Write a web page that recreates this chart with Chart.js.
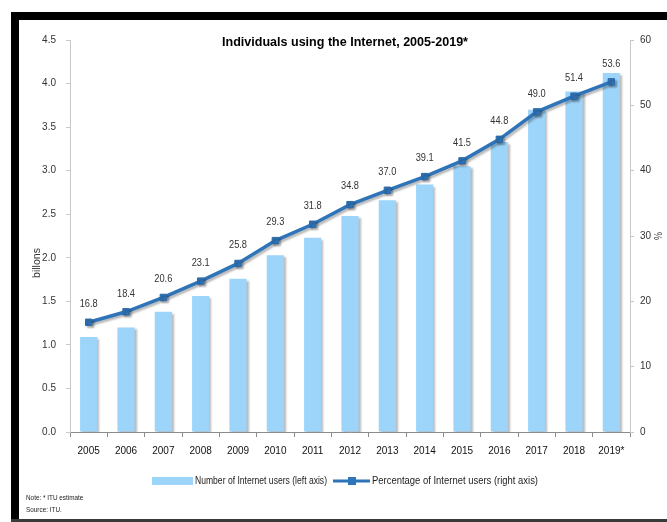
<!DOCTYPE html>
<html>
<head>
<meta charset="utf-8">
<script src="https://cdn.jsdelivr.net/npm/chart.js@4.4.1/dist/chart.umd.min.js"></script>
<style>
  html, body { margin: 0; padding: 0; background: #fff; }
  #wrap { position: relative; width: 667px; height: 522px; overflow: hidden; }
  #c { position: absolute; left: 0; top: 0; }
  .bar-top { position: absolute; left: 11px; top: 12px; width: 656px; height: 8px; background: #000; }
  .bar-left { position: absolute; left: 11px; top: 12px; width: 8px; height: 510px; background: #000; }
  .bar-bottom { position: absolute; left: 11px; top: 519px; width: 656px; height: 3px; background: #3a3a3a; }
  .note { position: absolute; left: 26px; font: 7.5px 'Liberation Sans', sans-serif; color: #222;
          transform: scaleX(0.85); transform-origin: left top; white-space: nowrap; }
</style>
</head>
<body>
<div id="wrap">
  <canvas id="c" width="667" height="522"></canvas>
  <div class="bar-top"></div>
  <div class="bar-left"></div>
  <div class="bar-bottom"></div>
  <div class="note" style="top:493px">Note: * ITU estimate</div>
  <div class="note" style="top:505px">Source: ITU.</div>
</div>
<script>
// data
var years = ['2005','2006','2007','2008','2009','2010','2011','2012','2013','2014','2015','2016','2017','2018','2019*'];
var usersBillions = [1.09, 1.20, 1.38, 1.56, 1.76, 2.03, 2.23, 2.48, 2.66, 2.84, 3.05, 3.33, 3.70, 3.91, 4.12];
var usersPercent = [16.8, 18.4, 20.6, 23.1, 25.8, 29.3, 31.8, 34.8, 37.0, 39.1, 41.5, 44.8, 49.0, 51.4, 53.6];
var leftTicks = [0, 0.5, 1, 1.5, 2, 2.5, 3, 3.5, 4, 4.5];
var rightTicks = [0, 10, 20, 30, 40, 50, 60];

var FONT = "'Liberation Sans', Arial, sans-serif";
var BAR = '#9dd4f9';
var LINE = '#2f74b8';

// title, axis titles, point labels and legend
var extras = {
  id: 'extras',
  beforeDatasetsDraw: function(chart) {
    var ctx = chart.ctx;
    ctx.save();
    ctx.shadowColor = 'rgba(0,0,0,0.28)';
    ctx.shadowOffsetX = 2;
    ctx.shadowOffsetY = 2;
    ctx.shadowBlur = 2;
  },
  afterDatasetsDraw: function(chart) {
    var ctx = chart.ctx;
    ctx.restore();
    var meta = chart.getDatasetMeta(1);
    ctx.save();
    ctx.font = '10px ' + FONT;
    ctx.fillStyle = '#333';
    ctx.textAlign = 'center';
    ctx.textBaseline = 'middle';
    meta.data.forEach(function(pt, i) {
      ctx.fillText(usersPercent[i].toFixed(1), pt.x, pt.y - 18, 18);
    });
    ctx.restore();
  },
  afterDraw: function(chart) {
    var ctx = chart.ctx;
    ctx.save();
    ctx.fillStyle = '#000';
    ctx.textBaseline = 'middle';
    ctx.textAlign = 'center';
    ctx.font = 'bold 13px ' + FONT;
    ctx.fillText('Individuals using the Internet, 2005-2019*', 345, 42, 246);

    ctx.font = '10.5px ' + FONT;
    ctx.fillStyle = '#333';
    ctx.save();
    ctx.translate(37, 263);
    ctx.rotate(-Math.PI / 2);
    ctx.fillText('billons', 0, 0, 30);
    ctx.restore();
    ctx.save();
    ctx.translate(657, 236);
    ctx.rotate(Math.PI / 2);
    ctx.fillText('%', 0, 0, 8);
    ctx.restore();

    // legend
    var ly = 481;
    ctx.font = '10.5px ' + FONT;
    ctx.textAlign = 'left';
    ctx.fillStyle = BAR;
    ctx.fillRect(152, ly - 4, 41, 8);
    ctx.fillStyle = '#222';
    ctx.fillText(chart.data.datasets[0].label, 195, ly, 132);
    ctx.strokeStyle = LINE;
    ctx.lineWidth = 3;
    ctx.beginPath();
    ctx.moveTo(333, ly);
    ctx.lineTo(370, ly);
    ctx.stroke();
    ctx.fillStyle = LINE;
    ctx.fillRect(348, ly - 4, 8, 8);
    ctx.fillStyle = '#222';
    ctx.fillText(chart.data.datasets[1].label, 372, ly, 166);
    ctx.restore();
  }
};

new Chart(document.getElementById('c'), {
  type: 'bar',
  data: {
    labels: years,
    datasets: [
      {
        type: 'bar',
        label: 'Number of Internet users (left axis)',
        data: usersBillions,
        yAxisID: 'y',
        backgroundColor: BAR,
        barPercentage: 0.46,
        categoryPercentage: 1.0,
        order: 2
      },
      {
        type: 'line',
        label: 'Percentage of Internet users (right axis)',
        data: usersPercent,
        yAxisID: 'y1',
        borderColor: LINE,
        backgroundColor: LINE,
        borderWidth: 3.5,
        pointStyle: 'rect',
        pointRadius: 4.5,
        pointBorderColor: '#2a68a6',
        pointBorderWidth: 1,
        tension: 0,
        order: 1
      }
    ]
  },
  options: {
    responsive: false,
    animation: false,
    devicePixelRatio: 1,
    layout: { padding: { top: 40, left: 0, right: 0, bottom: 0 } },
    plugins: { legend: { display: false }, tooltip: { enabled: false } },
    scales: {
      x: {
        offset: true,
        grid: { offset: true, drawOnChartArea: false, tickLength: 5, color: '#8c8c8c' },
        border: { color: '#8c8c8c' },
        ticks: { color: '#111', padding: 8, font: { family: FONT, size: 10 }, maxRotation: 0, autoSkip: false },
        afterFit: function(s) { s.height = 90; }
      },
      y: {
        position: 'left',
        min: 0, max: 4.5,
        afterBuildTicks: function(s) { s.ticks = leftTicks.map(function(v) { return { value: v }; }); },
        grid: { drawOnChartArea: false, tickLength: 4, color: '#c8c8c8' },
        border: { color: '#c8c8c8' },
        ticks: { color: '#333', padding: 10, font: { family: FONT, size: 10 },
          callback: function(v) { return v.toFixed(1); } },
        afterFit: function(s) { s.width = 70; }
      },
      y1: {
        position: 'right',
        min: 0, max: 60,
        afterBuildTicks: function(s) { s.ticks = rightTicks.map(function(v) { return { value: v }; }); },
        grid: { drawOnChartArea: false, tickLength: 4, color: '#c8c8c8' },
        border: { color: '#c8c8c8' },
        ticks: { color: '#333', padding: 6, font: { family: FONT, size: 10 } },
        afterFit: function(s) { s.width = 37; }
      }
    }
  },
  plugins: [extras]
});
</script>
</body>
</html>
